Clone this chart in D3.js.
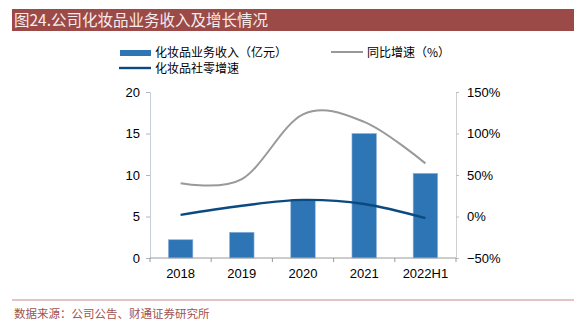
<!DOCTYPE html>
<html>
<head>
<meta charset="utf-8">
<script src="https://cdn.jsdelivr.net/npm/d3@7"></script>
<style>
  body { margin: 0; background: #fff; }
  svg { display: block; }
  .tick text { font-family: "Liberation Sans", Arial, sans-serif; font-size: 13px; fill: #000; }
  .cjk { font-family: "Noto Sans CJK SC", sans-serif; }
</style>
</head>
<body>
<div id="chart"></div>
<script>
const years = ["2018", "2019", "2020", "2021", "2022H1"];
const revenue = [2.2, 3.1, 7.0, 15.0, 10.2];      // 化妆品业务收入（亿元）
const yoyGrowth = [40, 45, 123, 114, 64];         // 同比增速（%）
const retailGrowth = [2, 13, 20, 15, -2];          // 化妆品社零增速（%）
const leftTicks = [0, 5, 10, 15, 20];
const rightTicks = [-50, 0, 50, 100, 150];

const width = 574;
const height = 324;
const margin = { top: 92, right: 118, bottom: 66, left: 150 };

const svg = d3.select("#chart")
  .append("svg")
  .attr("width", width)
  .attr("height", height);

// title bar
svg.append("rect")
  .attr("x", 12).attr("y", 9)
  .attr("width", width - 12).attr("height", 22)
  .attr("fill", "#9c4a47");
svg.append("text")
  .attr("class", "cjk")
  .attr("x", 14).attr("y", 26)
  .attr("font-size", 15.5)
  .attr("fill", "#f6ecec")
  .text("图24.公司化妆品业务收入及增长情况");

// footer
svg.append("line")
  .attr("x1", 12).attr("x2", width)
  .attr("y1", 300).attr("y2", 300)
  .attr("stroke", "#c48a88").attr("stroke-width", 1);
svg.append("text")
  .attr("class", "cjk")
  .attr("x", 14).attr("y", 318)
  .attr("font-size", 11.5)
  .attr("fill", "#a0524f")
  .text("数据来源：公司公告、财通证券研究所");

const x = d3.scaleBand()
  .domain(years)
  .range([margin.left, width - margin.right])
  .paddingInner(0.6)
  .paddingOuter(0.3);

const y = d3.scaleLinear()
  .domain([0, 20])
  .range([height - margin.bottom, margin.top]);

const y2 = d3.scaleLinear()
  .domain([-50, 150])
  .range([height - margin.bottom, margin.top]);

// left axis
const gLeft = svg.append("g")
  .attr("transform", `translate(${margin.left},0)`)
  .call(d3.axisLeft(y).tickValues(leftTicks).tickSize(4).tickPadding(6));
gLeft.select(".domain").attr("stroke", "#c5cfdc");
gLeft.selectAll(".tick line").attr("stroke", "#aab6c6");

// right axis
const gRight = svg.append("g")
  .attr("transform", `translate(${width - margin.right},0)`)
  .call(d3.axisRight(y2).tickValues(rightTicks).tickFormat((d) => (d < 0 ? "\u2212" + Math.abs(d) : d) + "%").tickSize(3).tickPadding(8));
gRight.select(".domain").attr("stroke", "#d0d0d0");
gRight.selectAll(".tick line").attr("stroke", "#c0c0c0");

// bars
svg.append("g")
  .selectAll("rect")
  .data(revenue)
  .join("rect")
  .attr("x", (d, i) => x(years[i]))
  .attr("y", (d) => y(d))
  .attr("width", x.bandwidth())
  .attr("height", (d) => y(0) - y(d))
  .attr("fill", "#2e75b6")
  .attr("stroke", "#8fb4dc")
  .attr("stroke-width", 0.6);

// x axis with ticks at category boundaries
const boundaries = d3.range(years.length + 1).map((i) => margin.left + i * (width - margin.right - margin.left) / years.length);
const gX = svg.append("g").attr("transform", `translate(0,${y(0)})`);
gX.append("line")
  .attr("x1", margin.left).attr("x2", width - margin.right)
  .attr("stroke", "#9a9a9a");
gX.selectAll(".bt")
  .data(boundaries)
  .join("line")
  .attr("class", "bt")
  .attr("x1", (d) => d).attr("x2", (d) => d)
  .attr("y1", 0).attr("y2", 4)
  .attr("stroke", "#9a9a9a");
gX.selectAll(".lbl")
  .data(years)
  .join("text")
  .attr("class", "lbl")
  .attr("x", (d) => x(d) + x.bandwidth() / 2)
  .attr("y", 20)
  .attr("text-anchor", "middle")
  .attr("font-family", "Liberation Sans, Arial, sans-serif")
  .attr("font-size", 13)
  .text((d) => d);

// lines
const line = d3.line()
  .x((d, i) => x(years[i]) + x.bandwidth() / 2)
  .y((d) => y2(d))
  .curve(d3.curveCardinal.tension(0));

svg.append("path")
  .datum(yoyGrowth)
  .attr("d", line)
  .attr("fill", "none")
  .attr("stroke", "#999999")
  .attr("stroke-width", 2);

svg.append("path")
  .datum(retailGrowth)
  .attr("d", line)
  .attr("fill", "none")
  .attr("stroke", "#0b4a80")
  .attr("stroke-width", 2.4);

// legend
const legend = svg.append("g").attr("class", "cjk").attr("font-size", 12);
legend.append("rect")
  .attr("x", 120).attr("y", 50).attr("width", 31).attr("height", 6)
  .attr("fill", "#2e75b6");
legend.append("text").attr("x", 155).attr("y", 57).text("化妆品业务收入（亿元）");
legend.append("line")
  .attr("x1", 331).attr("x2", 363).attr("y1", 52).attr("y2", 52)
  .attr("stroke", "#999999").attr("stroke-width", 2);
legend.append("text").attr("x", 367).attr("y", 57).text("同比增速（%）");
legend.append("line")
  .attr("x1", 119).attr("x2", 151).attr("y1", 68).attr("y2", 68)
  .attr("stroke", "#0b4a80").attr("stroke-width", 2.4);
legend.append("text").attr("x", 155).attr("y", 73).text("化妆品社零增速");
</script>
</body>
</html>
